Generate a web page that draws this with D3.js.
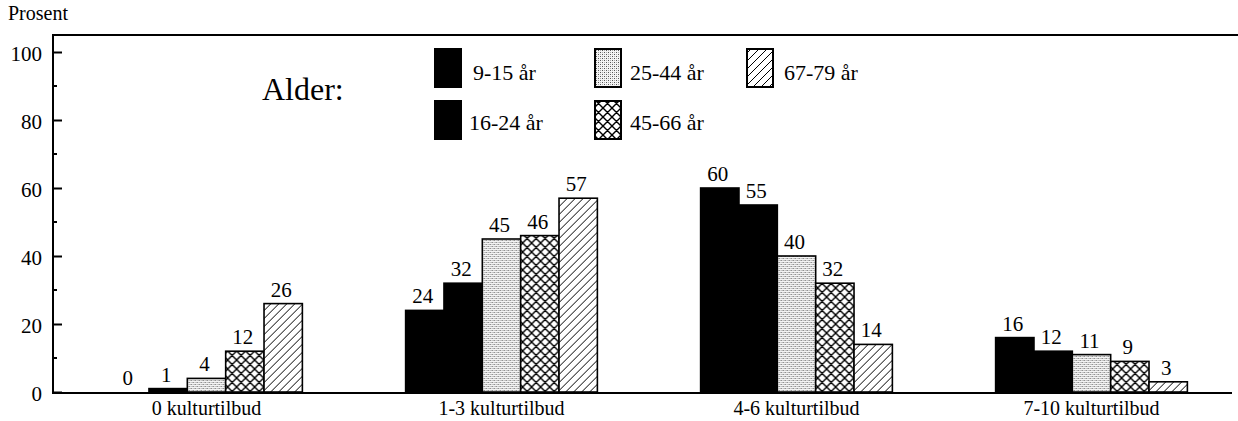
<!DOCTYPE html>
<html>
<head>
<meta charset="utf-8">
<script src="https://cdn.jsdelivr.net/npm/d3@7"></script>
<style>
  body { margin: 0; background: #fff; }
  text { font-family: "Liberation Serif", "Times New Roman", serif; fill: #000; }
</style>
</head>
<body>
<script>
// Data
var categories = ["0 kulturtilbud", "1-3 kulturtilbud", "4-6 kulturtilbud", "7-10 kulturtilbud"];
var ageGroups = ["9-15 år", "16-24 år", "25-44 år", "45-66 år", "67-79 år"];
var v9_15  = [0, 24, 60, 16];
var v16_24 = [1, 32, 55, 12];
var v25_44 = [4, 45, 40, 11];
var v45_66 = [12, 46, 32, 9];
var v67_79 = [26, 57, 14, 3];
var series = [v9_15, v16_24, v25_44, v45_66, v67_79];
var yTicks = [0, 20, 40, 60, 80, 100];

var width = 1238, height = 421;

var svg = d3.select("body").append("svg")
    .attr("width", width)
    .attr("height", height);

// patterns
var defs = svg.append("defs");
var stip = defs.append("pattern").attr("id", "stipple")
    .attr("patternUnits", "userSpaceOnUse").attr("width", 4).attr("height", 4);
stip.append("rect").attr("width", 4).attr("height", 4).attr("fill", "#f4f4f4");
stip.append("rect").attr("x", 0).attr("y", 0).attr("width", 1).attr("height", 1).attr("fill", "#555");
stip.append("rect").attr("x", 2).attr("y", 2).attr("width", 1).attr("height", 1).attr("fill", "#555");
stip.append("rect").attr("x", 2).attr("y", 0).attr("width", 1).attr("height", 1).attr("fill", "#aaa");
stip.append("rect").attr("x", 0).attr("y", 2).attr("width", 1).attr("height", 1).attr("fill", "#aaa");

var cross = defs.append("pattern").attr("id", "cross")
    .attr("patternUnits", "userSpaceOnUse").attr("width", 9).attr("height", 9);
cross.append("rect").attr("width", 9).attr("height", 9).attr("fill", "#fff");
cross.append("path").attr("d", "M0,0L9,9M9,0L0,9M-1,8L1,10M8,-1L10,1M-1,1L1,-1M8,10L10,8")
    .attr("stroke", "#000").attr("stroke-width", 1.4);

var hatch = defs.append("pattern").attr("id", "hatch")
    .attr("patternUnits", "userSpaceOnUse").attr("width", 8).attr("height", 8);
hatch.append("rect").attr("width", 8).attr("height", 8).attr("fill", "#fff");
hatch.append("path").attr("d", "M0,8L8,0M-2,2L2,-2M6,10L10,6")
    .attr("stroke", "#000").attr("stroke-width", 1);

var fills = ["#000", "#000", "url(#stipple)", "url(#cross)", "url(#hatch)"];

// scales
var y = d3.scaleLinear().domain([0, 105]).range([392, 35]);
var x0 = d3.scaleBand().domain(categories).range([59, 1239])
    .paddingInner(0.35).paddingOuter(0.175);
var x1 = d3.scaleBand().domain(d3.range(ageGroups.length)).range([0, x0.bandwidth()]);

// top frame line
svg.append("line").attr("x1", 52).attr("x2", 1238).attr("y1", y(105)).attr("y2", y(105))
    .attr("stroke", "#000").attr("stroke-width", 2);

// y axis
var yAxis = d3.axisLeft(y).tickValues(yTicks).tickSize(-9).tickPadding(11);
var gy = svg.append("g").attr("transform", "translate(53,0)").call(yAxis);
gy.select(".domain").remove();
gy.selectAll(".tick line").attr("stroke-width", 2);
gy.selectAll(".tick text").attr("font-size", 21).attr("dy", "0.42em");
// minor ticks
svg.selectAll(".minor").data([10, 30, 50, 70, 90]).enter().append("line")
    .attr("x1", 53).attr("x2", 57).attr("y1", function(d){ return y(d); }).attr("y2", function(d){ return y(d); })
    .attr("stroke", "#000").attr("stroke-width", 2);
svg.append("line").attr("x1", 53).attr("x2", 53).attr("y1", y(105) - 1).attr("y2", y(0) + 2)
    .attr("stroke", "#000").attr("stroke-width", 2);

// bars
var groups = svg.selectAll(".grp").data(categories).enter().append("g")
    .attr("transform", function(d){ return "translate(" + x0(d) + ",0)"; });

groups.each(function(cat, ci){
    var g = d3.select(this);
    series.forEach(function(s, si){
        var v = s[ci];
        if (v > 0) {
            g.append("rect")
                .attr("x", x1(si))
                .attr("y", y(v))
                .attr("width", x1.bandwidth())
                .attr("height", y(0) - y(v))
                .attr("fill", fills[si])
                .attr("stroke", "#000")
                .attr("stroke-width", 1.6);
        }
        g.append("text")
            .attr("x", x1(si) + x1.bandwidth() / 2 - 2)
            .attr("y", y(v) - 7)
            .attr("text-anchor", "middle")
            .attr("font-size", 21)
            .text(v);
    });
});

// x axis line
svg.append("line").attr("x1", 52).attr("x2", 1232).attr("y1", y(0) + 1).attr("y2", y(0) + 1)
    .attr("stroke", "#000").attr("stroke-width", 2);

svg.selectAll(".cat").data(categories).enter().append("text")
    .attr("x", function(d){ return x0(d) + x0.bandwidth() / 2; })
    .attr("y", 415)
    .attr("text-anchor", "middle")
    .attr("font-size", 20)
    .text(function(d){ return d; });

// axis title
svg.append("text").attr("x", 8).attr("y", 20).attr("font-size", 20).text("Prosent");

// legend
svg.append("text").attr("x", 262).attr("y", 100).attr("font-size", 32).text("Alder:");

var legendPos = [
    {sx: 435, sy: 49, tx: 473, ty: 80},
    {sx: 435, sy: 101, tx: 469, ty: 130},
    {sx: 595, sy: 49, tx: 630, ty: 80},
    {sx: 595, sy: 101, tx: 630, ty: 130},
    {sx: 747, sy: 49, tx: 784, ty: 80}
];
ageGroups.forEach(function(a, i){
    var p = legendPos[i];
    svg.append("rect").attr("x", p.sx).attr("y", p.sy).attr("width", 26).attr("height", 38)
        .attr("fill", fills[i]).attr("stroke", "#000").attr("stroke-width", 2);
    svg.append("text").attr("x", p.tx).attr("y", p.ty).attr("font-size", 22).text(a);
});
</script>
</body>
</html>
